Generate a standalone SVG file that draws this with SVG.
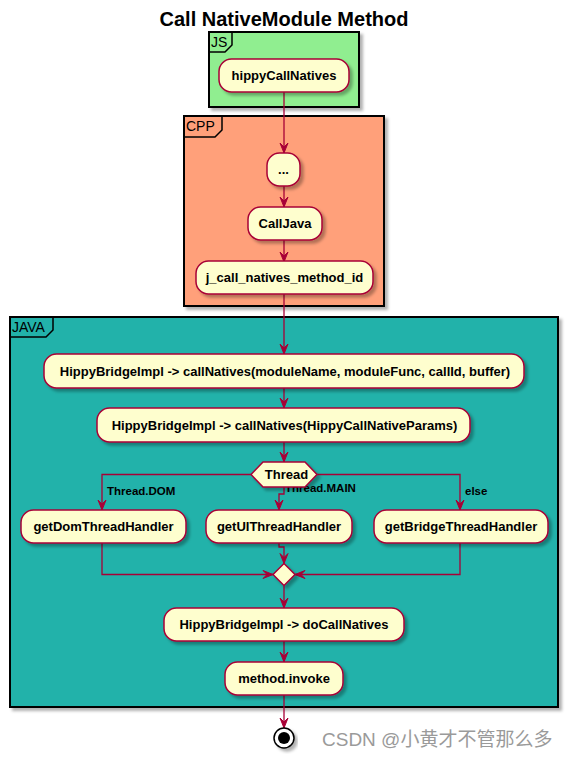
<svg xmlns="http://www.w3.org/2000/svg" width="568" height="759" viewBox="0 0 568 759">
<style>
.title{font-family:"Liberation Sans",Arial,sans-serif;font-weight:bold;font-size:20px;fill:#000}
.frame{stroke:#000;stroke-width:2}
.tab{fill:none;stroke:#000;stroke-width:1.5}
.flabel{font-family:"Liberation Sans",Arial,sans-serif;font-size:14px;fill:#000}
.node rect,.node polygon{fill:#FEFECE;stroke:#A80036;stroke-width:1.5}
.node text{font-family:"Liberation Sans",Arial,sans-serif;font-weight:bold;font-size:13px;fill:#000;text-anchor:middle}
.edge{fill:none;stroke:#A80036;stroke-width:1.3}
.ah{fill:#A80036;stroke:#A80036;stroke-width:1}
.elabel{font-family:"Liberation Sans",Arial,sans-serif;font-weight:bold;font-size:11.5px;fill:#000}
.wm{font-family:"Liberation Sans","Noto Sans CJK SC",sans-serif;font-size:19px;fill:#9a9a9a}
</style>
<defs>
<filter id="sh" x="-10%" y="-10%" width="130%" height="140%">
<feDropShadow dx="3" dy="3" stdDeviation="1.8" flood-color="#000" flood-opacity="0.3"/>
</filter>
</defs>
<rect width="568" height="759" fill="#fff"/>
<text class="title" x="284" y="26" text-anchor="middle">Call NativeModule Method</text>

<g id="frame-js">
<rect class="frame" x="209" y="32" width="150" height="75" fill="#90EE90" filter="url(#sh)"/>
<path class="tab" d="M209,52 L225,52 L232,45 L232,32"/>
<text class="flabel" x="211" y="47">JS</text>
</g>
<g id="frame-cpp">
<rect class="frame" x="184" y="116" width="200" height="190" fill="#FFA07A" filter="url(#sh)"/>
<path class="tab" d="M184,137 L215,137 L222,130 L222,116"/>
<text class="flabel" x="186" y="131">CPP</text>
</g>
<g id="frame-java">
<rect class="frame" x="10" y="317" width="548" height="390" fill="#20B2AA" filter="url(#sh)"/>
<path class="tab" d="M10,337 L46,337 L53,330 L53,317"/>
<text class="flabel" x="12" y="332">JAVA</text>
</g>

<g id="edges">
<path class="edge" d="M284,92 V153"/><polygon class="ah" points="280,143 284,153 288,143 284,147"/>
<path class="edge" d="M284,186 V207"/><polygon class="ah" points="280,197 284,207 288,197 284,201"/>
<path class="edge" d="M284,240 V262"/><polygon class="ah" points="280,252 284,262 288,252 284,256"/>
<path class="edge" d="M284,294 V354"/><polygon class="ah" points="280,344 284,354 288,344 284,348"/>
<path class="edge" d="M284,388 V408"/><polygon class="ah" points="280,398 284,408 288,398 284,402"/>
<path class="edge" d="M284,442 V462"/><polygon class="ah" points="280,452 284,462 288,452 284,456"/>
<path class="edge" d="M251,474.5 H102 V510"/><polygon class="ah" points="98,500 102,510 106,500 102,504"/>
<path class="edge" d="M284,487 V494 H279 V510"/><polygon class="ah" points="275,500 279,510 283,500 279,504"/>
<path class="edge" d="M317,474.5 H460 V510"/><polygon class="ah" points="456,500 460,510 464,500 460,504"/>
<path class="edge" d="M102,543 V574.5 H273"/><polygon class="ah" points="263,570.5 273,574.5 263,578.5 267,574.5"/>
<path class="edge" d="M279,543 V547 H284 V563.5"/><polygon class="ah" points="280,553.5 284,563.5 288,553.5 284,557.5"/>
<path class="edge" d="M460,543 V574.5 H295"/><polygon class="ah" points="305,570.5 295,574.5 305,578.5 301,574.5"/>
<path class="edge" d="M284,585.5 V608"/><polygon class="ah" points="280,598 284,608 288,598 284,602"/>
<path class="edge" d="M284,641 V662"/><polygon class="ah" points="280,652 284,662 288,652 284,656"/>
<path class="edge" d="M284,695 V728"/><polygon class="ah" points="280,718 284,728 288,718 284,722"/>
<text class="elabel" x="107" y="495">Thread.DOM</text>
<text class="elabel" x="285" y="492">Thread.MAIN</text>
<text class="elabel" x="465" y="495">else</text>
</g>

<g id="n-hippyCallNatives" class="node"><rect x="219" y="59" width="130" height="33" rx="12.5" filter="url(#sh)"/><text x="284" y="80">hippyCallNatives</text></g>
<g id="n-dots" class="node"><rect x="267" y="153" width="33" height="33" rx="12.5" filter="url(#sh)"/><text x="283.5" y="174">...</text></g>
<g id="n-CallJava" class="node"><rect x="248" y="207" width="74" height="33" rx="12.5" filter="url(#sh)"/><text x="285" y="228">CallJava</text></g>
<g id="n-jcall" class="node"><rect x="196" y="261" width="177" height="33" rx="12.5" filter="url(#sh)"/><text x="284.5" y="282">j_call_natives_method_id</text></g>
<g id="n-callNatives1" class="node"><rect x="44" y="354" width="480" height="34" rx="12.5" filter="url(#sh)"/><text x="285" y="375.5">HippyBridgeImpl -&gt; callNatives(moduleName, moduleFunc, callId, buffer)</text></g>
<g id="n-callNatives2" class="node"><rect x="97" y="408" width="373" height="34" rx="12.5" filter="url(#sh)"/><text x="284.5" y="429.5">HippyBridgeImpl -&gt; callNatives(HippyCallNativeParams)</text></g>
<g id="n-thread" class="node"><polygon points="251,474.5 263,462 305,462 317,474.5 305,487 263,487" filter="url(#sh)"/><text x="286.5" y="479">Thread</text></g>
<g id="n-getDom" class="node"><rect x="21" y="510" width="165" height="33" rx="12.5" filter="url(#sh)"/><text x="103.5" y="531">getDomThreadHandler</text></g>
<g id="n-getUI" class="node"><rect x="206" y="510" width="146" height="33" rx="12.5" filter="url(#sh)"/><text x="279" y="531">getUIThreadHandler</text></g>
<g id="n-getBridge" class="node"><rect x="374" y="510" width="174" height="33" rx="12.5" filter="url(#sh)"/><text x="461" y="531">getBridgeThreadHandler</text></g>
<g id="n-merge" class="node"><polygon points="284,563.5 295,574.5 284,585.5 273,574.5" filter="url(#sh)"/></g>
<g id="n-doCallNatives" class="node"><rect x="164" y="608" width="240" height="33" rx="12.5" filter="url(#sh)"/><text x="284" y="629">HippyBridgeImpl -&gt; doCallNatives</text></g>
<g id="n-invoke" class="node"><rect x="225" y="662" width="118" height="33" rx="12.5" filter="url(#sh)"/><text x="284" y="683">method.invoke</text></g>
<g id="n-end">
<circle cx="284" cy="738" r="10" fill="#fff" stroke="#000" stroke-width="1.5" filter="url(#sh)"/>
<circle cx="284" cy="738" r="6" fill="#000"/>
</g>
<text class="wm" x="322" y="746">CSDN @小黄才不管那么多</text>
</svg>
